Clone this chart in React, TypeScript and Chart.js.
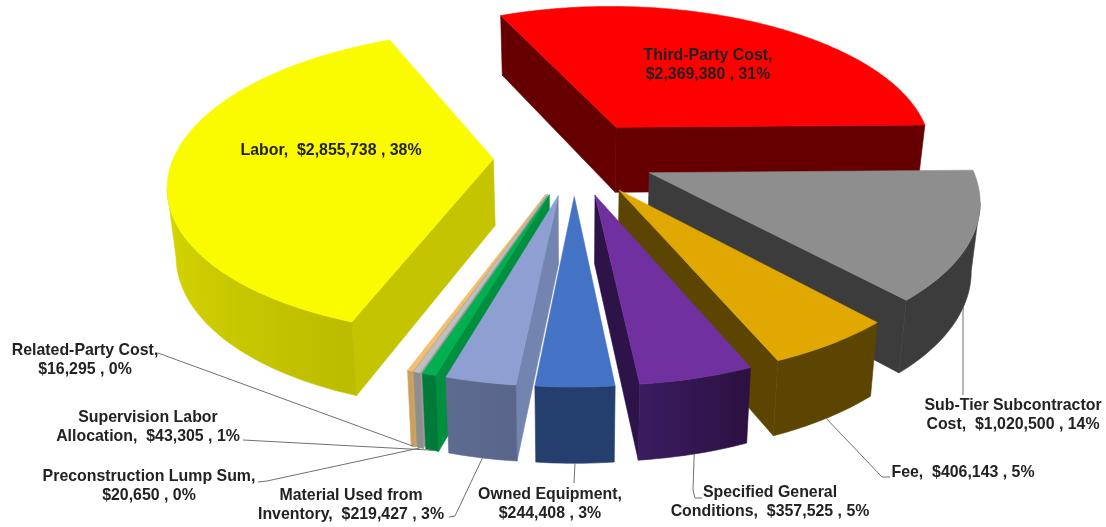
import React, { useEffect, useRef } from "react";
import { Chart, registerables } from "chart.js";

Chart.register(...registerables);

const categories = [
  "Third-Party Cost",
  "Sub-Tier Subcontractor Cost",
  "Fee",
  "Specified General Conditions",
  "Owned Equipment",
  "Material Used from Inventory",
  "Supervision Labor Allocation",
  "Preconstruction Lump Sum",
  "Related-Party Cost",
  "Labor",
];
const amounts = [2369380, 1020500, 406143, 357525, 244408, 219427, 43305, 20650, 16295, 2855738];
const percents = [31, 14, 5, 5, 3, 3, 1, 0, 0, 38];

const topColors = ["#FF0000", "#8E8E8E", "#E0A800", "#7030A0", "#4472C4", "#8EA0D2", "#00B050", "#BFBFBF", "#F4BD70", "#FAFA00"];
const radialColors = ["#660000", "#3C3C3C", "#5C4500", "#2D1348", "#243F6D", "#7384B0", "#008F3E", "#9A9A9A", "#C9A060", "#C4C400"];
const rimStartColors = ["#660000", "#3C3C3C", "#5C4500", "#2C1040", "#243F6D", "#59658A", "#007A38", "#8E8E8E", "#C9A060", "#BCBC00"];
const rimEndColors = ["#660000", "#3C3C3C", "#5C4500", "#3A1C60", "#243F6D", "#5E6C92", "#007A38", "#8E8E8E", "#C9A060", "#FFFF00"];

// Words of each category kept on the first label line (0 = single line).
const wordsOnFirstLine = [2, 2, 0, 2, 2, 3, 2, 3, 2, 0];
// Label centres and first baselines' middle, in page pixels.
const labelX = [708, 1013, 963, 770, 550, 351, 148, 149, 85, 331];
const labelY = [55.5, 405.5, 472.5, 492.5, 494.5, 495.5, 417.5, 476.5, 350.5, 150.5];
const LINE_GAP = 18.7;
// Bends of the leader lines, from slice to label.
const leaderBends: number[][][] = [
  [],
  [[963, 312], [963, 395]],
  [[882, 477], [890, 477]],
  [[693, 490], [695, 498], [702, 498]],
  [[574, 483]],
  [[455, 516], [449, 517]],
  [[243, 440]],
  [[267, 481], [258, 482]],
  [[158, 353]],
  [],
];

// View of the tilted pie: centre, explosion, flattening, perspective, thickness.
const CENTER_X = 574.08;
const CENTER_Y = 157.7;
const EXPLODE = 80.65;
const RADIUS_SCALE = 1.2136;
const FLATTEN = 0.46265;
const PERSPECTIVE = 0.00048;
const THICKNESS = 66.48;
const THICKNESS_PERSPECTIVE = 0.00032;
const FLOOR_SHRINK = 0.02198;
const START_ANGLE = 336.106;
const D2R = Math.PI / 180;

type Pt = [number, number];

function project(mid: number, th: number, r: number, z: number): Pt {
  const X = EXPLODE * Math.sin(mid) + r * Math.sin(th);
  const Y = -EXPLODE * Math.cos(mid) - r * Math.cos(th);
  const w = 1 - PERSPECTIVE * Y;
  return [
    CENTER_X + (X / w) * (1 - z * FLOOR_SHRINK),
    CENTER_Y + (FLATTEN * Y) / w + (z * THICKNESS) / (1 - THICKNESS_PERSPECTIVE * Y),
  ];
}

function poly(ctx: CanvasRenderingContext2D, pts: Pt[], color: string | CanvasGradient) {
  ctx.beginPath();
  pts.forEach((p, i) => (i ? ctx.lineTo(p[0], p[1]) : ctx.moveTo(p[0], p[1])));
  ctx.closePath();
  ctx.fillStyle = color;
  ctx.strokeStyle = color;
  ctx.lineWidth = 0.6;
  ctx.lineJoin = "round";
  ctx.fill();
  ctx.stroke();
}

function mixColors(a: string, b: string, t: number) {
  const ch = (s: string, i: number) => parseInt(s.slice(1 + i * 2, 3 + i * 2), 16);
  const m = [0, 1, 2].map((i) => Math.round(ch(a, i) + (ch(b, i) - ch(a, i)) * t));
  return `rgb(${m[0]},${m[1]},${m[2]})`;
}

function labelLines(i: number): string[] {
  const amount = "$" + amounts[i].toLocaleString("en-US") + " , " + percents[i] + "%";
  const n = wordsOnFirstLine[i];
  if (n === 0) return [`${categories[i]},  ${amount}`];
  const words = categories[i].split(" ");
  const rest = words.slice(n).join(" ");
  const first = words.slice(0, n).join(" ");
  return rest ? [first, `${rest},  ${amount}`] : [first + ",", amount];
}

// Outer wall of one wedge: the part facing the viewer, shaded along its width.
function drawRim(ctx: CanvasRenderingContext2D, s: any, steps: number) {
  const at = (k: number) => s.a0 + ((s.a1 - s.a0) * k) / steps;
  let first = -1;
  let last = -1;
  for (let k = 0; k < steps; k++) {
    if (project(s.mid, at(k + 1), s.r, 0)[0] < project(s.mid, at(k), s.r, 0)[0]) {
      if (first < 0) first = k;
      last = k + 1;
    }
  }
  if (first < 0) return;
  const upper: Pt[] = [];
  const lower: Pt[] = [];
  for (let k = first; k <= last; k++) {
    upper.push(project(s.mid, at(k), s.r, 0));
    lower.push(project(s.mid, at(k), s.r, 1));
  }
  const x0 = upper[0][0];
  const x1 = upper[upper.length - 1][0];
  const grad = ctx.createLinearGradient(x0, 0, x1, 0);
  upper.forEach((p, n) => {
    const t = (first + n) / steps;
    grad.addColorStop((p[0] - x0) / (x1 - x0), mixColors(rimStartColors[s.i], rimEndColors[s.i], t));
  });
  poly(ctx, [...upper, ...lower.reverse()], grad);
}

// Replaces the flat arcs with exploded, extruded wedges in perspective.
const extrudedPie = {
  id: "extrudedPie",
  beforeDatasetDraw(chart: any) {
    const ctx: CanvasRenderingContext2D = chart.ctx;
    const slices = chart.getDatasetMeta(0).data.map((arc: any, i: number) => {
      const a0 = arc.startAngle + Math.PI / 2;
      const a1 = arc.endAngle + Math.PI / 2;
      const mid = (a0 + a1) / 2;
      return { i, a0, a1, mid, r: arc.outerRadius * RADIUS_SCALE, top: arc.options.backgroundColor, depth: -Math.cos(mid) };
    });
    slices.sort((p: any, q: any) => p.depth - q.depth);

    ctx.save();
    for (const s of slices) {
      const tip0 = project(s.mid, s.a0, 0, 0);
      const tip1 = project(s.mid, s.a0, 0, 1);
      const run = (a: number) => project(s.mid, a, s.r, 0)[0] - tip0[0];
      if (run(s.a0) < 0) {
        poly(ctx, [tip0, project(s.mid, s.a0, s.r, 0), project(s.mid, s.a0, s.r, 1), tip1], radialColors[s.i]);
      }
      if (run(s.a1) > 0) {
        poly(ctx, [tip0, project(s.mid, s.a1, s.r, 0), project(s.mid, s.a1, s.r, 1), tip1], radialColors[s.i]);
      }
      const steps = Math.max(4, Math.ceil((s.a1 - s.a0) / (1.2 * D2R)));
      drawRim(ctx, s, steps);
      const top: Pt[] = [tip0];
      for (let k = 0; k <= steps; k++) {
        top.push(project(s.mid, s.a0 + ((s.a1 - s.a0) * k) / steps, s.r, 0));
      }
      poly(ctx, top, s.top);
    }

    // Leader lines run from the lower rim of a slice out to its label.
    ctx.strokeStyle = "#707070";
    ctx.lineWidth = 1;
    ctx.lineJoin = "miter";
    for (const s of slices) {
      const bends = leaderBends[s.i];
      if (!bends.length) continue;
      const from = project(s.mid, s.mid, s.r, 1);
      ctx.beginPath();
      ctx.moveTo(from[0], from[1]);
      bends.forEach((b) => ctx.lineTo(b[0], b[1]));
      ctx.stroke();
    }

    ctx.fillStyle = "#222";
    ctx.font = 'bold 15.9px "Liberation Sans", Arial, sans-serif';
    ctx.textAlign = "center";
    ctx.textBaseline = "middle";
    categories.forEach((_, i) => {
      labelLines(i).forEach((line, n) => {
        ctx.fillText(line, labelX[i], labelY[i] + n * LINE_GAP);
      });
    });
    ctx.restore();
    return false;
  },
};

export default function App() {
  const ref = useRef<HTMLCanvasElement>(null);
  useEffect(() => {
    const chart = new Chart(ref.current!, {
      type: "pie",
      data: {
        labels: categories,
        datasets: [{ data: amounts, backgroundColor: topColors, borderWidth: 0 }],
      },
      options: {
        responsive: false,
        animation: false,
        rotation: START_ANGLE,
        plugins: { legend: { display: false }, tooltip: { enabled: false } },
      },
      plugins: [extrudedPie],
    } as any);
    return () => chart.destroy();
  }, []);
  return (
    <div style={{ position: "fixed", left: 0, top: 0, width: 1106, height: 527, background: "#fff" }}>
      <canvas ref={ref} width={1106} height={527} style={{ display: "block" }} />
    </div>
  );
}
